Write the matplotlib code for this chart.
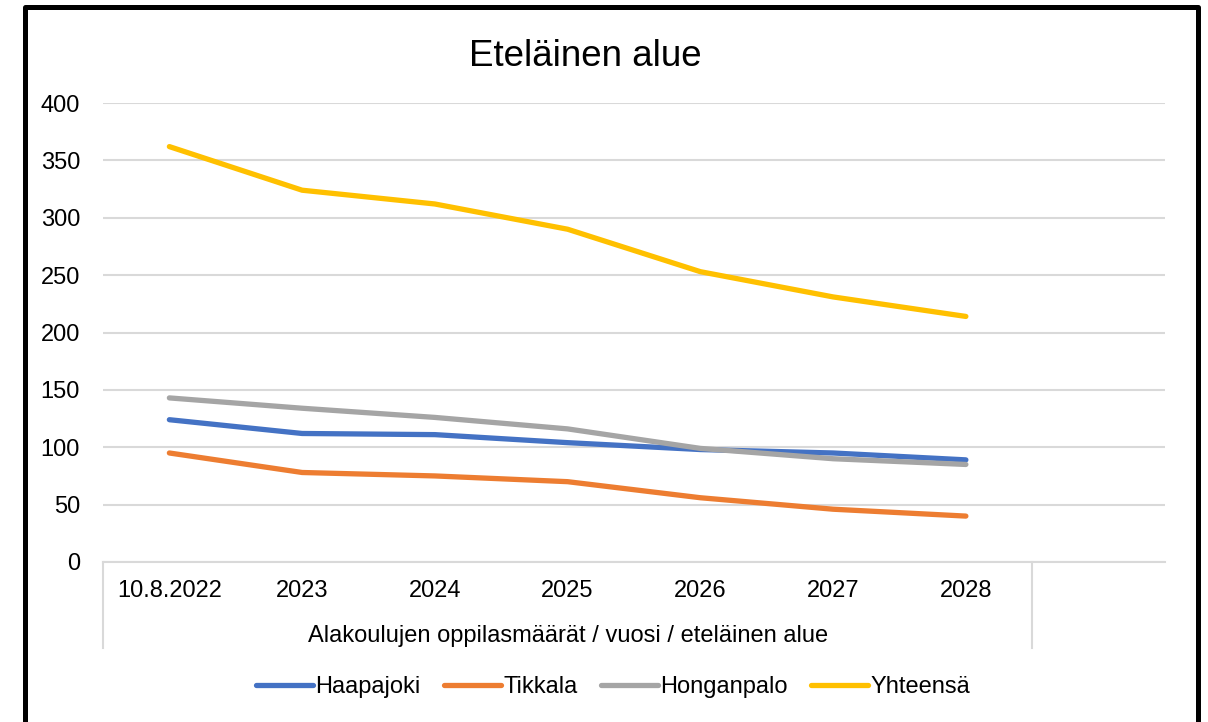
"""
Eteläinen alue: alakoulujen oppilasmäärät vuosittain (line chart).
"""

import matplotlib

matplotlib.use("Agg")
import matplotlib.pyplot as plt
from matplotlib.patches import Rectangle
from matplotlib.transforms import blended_transform_factory

plt.rcParams["font.family"] = ["Liberation Sans", "DejaVu Sans"]

categories = ["10.8.2022", "2023", "2024", "2025", "2026", "2027", "2028"]
haapajoki = [124, 112, 111, 104, 98, 95, 89]
tikkala = [95, 78, 75, 70, 56, 46, 40]
honganpalo = [143, 134, 126, 116, 99, 90, 85]
yhteensa = [362, 324, 312, 290, 253, 231, 214]

series = [
    ("Haapajoki", haapajoki, "#4472C4"),
    ("Tikkala", tikkala, "#ED7D31"),
    ("Honganpalo", honganpalo, "#A5A5A5"),
    ("Yhteensä", yhteensa, "#FFC000"),
]

grid_color = "#D9D9D9"
fs = 17


def main():
    fig = plt.figure(figsize=(12.08, 7.22), dpi=100)
    ax = fig.add_axes([103 / 1208, 1 - 562 / 722, 1062 / 1208, 459 / 722])

    x = list(range(len(categories)))
    for name, values, color in series:
        ax.plot(
            x,
            values,
            color=color,
            lw=3.8,
            label=name,
            solid_capstyle="round",
            solid_joinstyle="round",
        )

    # one empty category at the end, like in the original
    ax.set_xlim(-0.5, len(categories) + 0.5)
    ax.set_ylim(0, 400)
    ax.set_yticks(range(0, 401, 50))
    ax.set_xticks(x, categories)
    ax.tick_params(axis="y", length=0, pad=16.5, labelsize=fs)
    ax.tick_params(axis="x", length=0, pad=13, labelsize=fs)
    ax.grid(axis="y", color=grid_color, lw=1.5)
    ax.set_axisbelow(True)
    for side in ["left", "right", "top"]:
        ax.spines[side].set_visible(False)
    ax.spines["bottom"].set_color(grid_color)
    ax.spines["bottom"].set_linewidth(1.5)

    # multi-level category axis: separators and the group label
    trans = blended_transform_factory(ax.transData, ax.transAxes)
    low = -86 / 459
    for xv in [-0.5, len(categories) - 0.5]:
        ax.plot([xv, xv], [0, low], color=grid_color, lw=1.5,
                transform=trans, clip_on=False)
    ax.text(
        (len(categories) - 1) / 2,
        -74 / 459,
        "Alakoulujen oppilasmäärät / vuosi / eteläinen alue",
        transform=trans,
        ha="center",
        va="center",
        fontsize=fs,
    )

    fig.text(585 / 1208, 1 - 57 / 722, "Eteläinen alue",
             ha="center", va="center", fontsize=26.5)

    fig.legend(
        loc="center",
        bbox_to_anchor=(613 / 1208, 1 - 687 / 722),
        ncol=4,
        frameon=False,
        fontsize=fs,
        handlelength=2.4,
        handletextpad=0.1,
        columnspacing=1.0,
    )

    # black frame around the chart, open at the bottom edge
    fig.patches.append(
        Rectangle(
            (24.5 / 1208, -0.05),
            (1198 - 24.5) / 1208,
            1 - 7 / 722 + 0.05,
            transform=fig.transFigure,
            fill=False,
            edgecolor="black",
            lw=3.6,
            joinstyle="round",
        )
    )

    fig.savefig("out.png", dpi=100)


if __name__ == "__main__":
    main()
